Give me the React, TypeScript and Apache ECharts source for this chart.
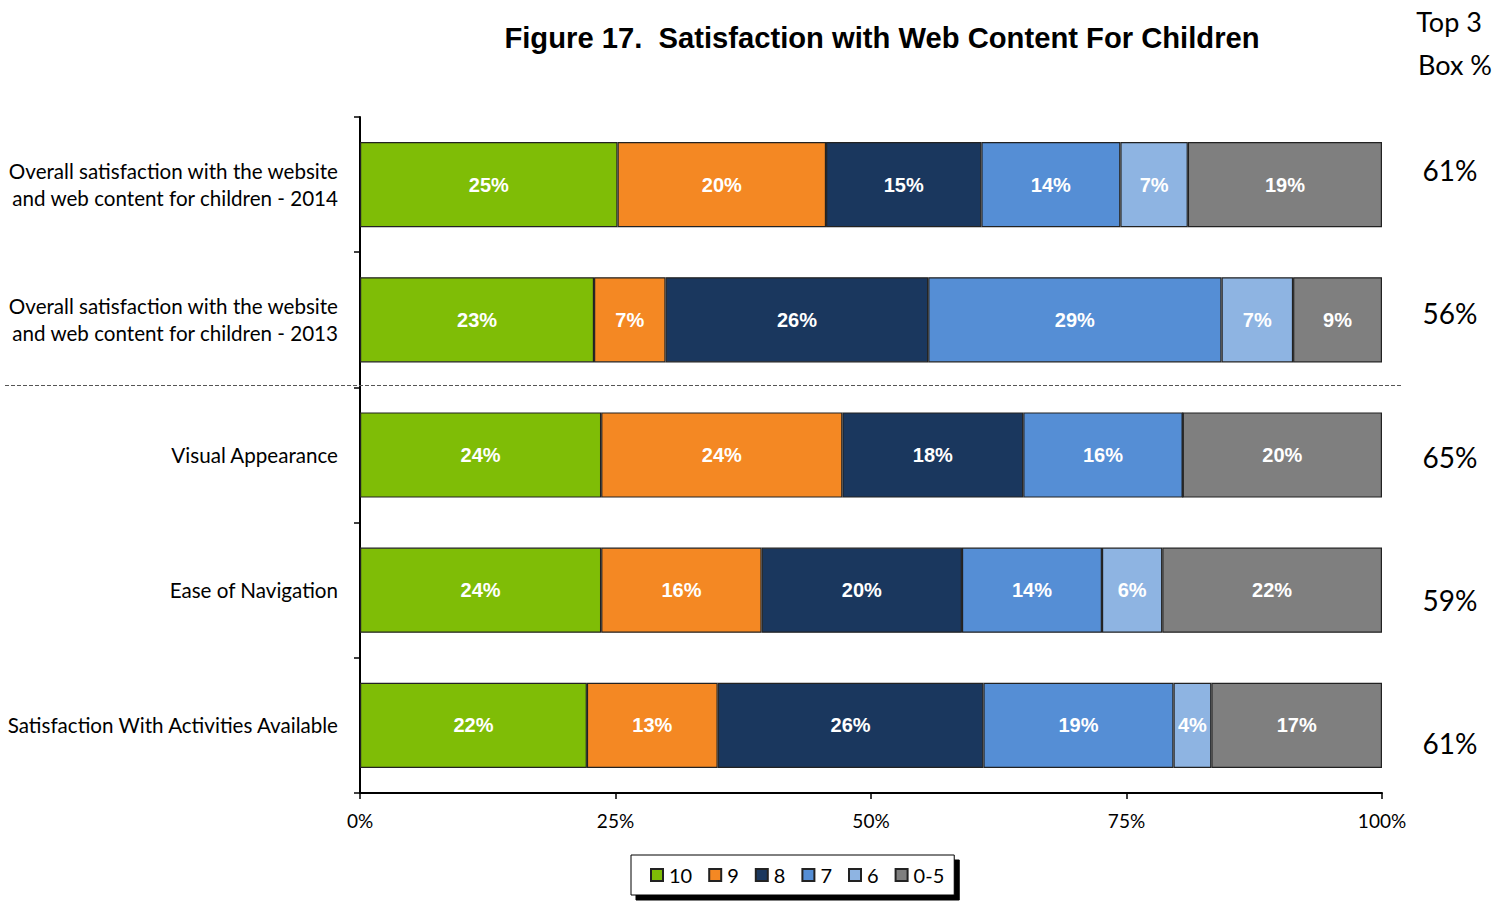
import React, { useEffect, useRef } from "react";
import * as echarts from "echarts";

const categories = [
  "Overall satisfaction with the website\nand web content for children - 2014",
  "Overall satisfaction with the website\nand web content for children - 2013",
  "Visual Appearance",
  "Ease of Navigation",
  "Satisfaction With Activities Available",
];

const seriesNames = ["10", "9", "8", "7", "6", "0-5"];

const s10 = [25.2, 22.9, 23.6, 23.6, 22.2];
const s9 = [20.4, 7.0, 23.6, 15.7, 12.8];
const s8 = [15.2, 25.7, 17.7, 19.6, 26.0];
const s7 = [13.6, 28.7, 15.6, 13.7, 18.6];
const s6 = [6.6, 7.0, 0, 5.9, 3.7];
const s05 = [19.0, 8.7, 19.5, 21.5, 16.7];

const top3 = ["61%", "56%", "65%", "59%", "61%"];

const xTicks = [0, 25, 50, 75, 100];

const colors = ["#7FBD06", "#F48823", "#1A375E", "#558ED5", "#8EB4E2", "#7F7F7F"];

const CAL = "Lato, 'Open Sans', sans-serif";
const ARIAL = "'Liberation Sans', Arial, sans-serif";

export default function App() {
  const ref = useRef<HTMLDivElement>(null);
  useEffect(() => {
    if (!ref.current) return;
    const chart = echarts.init(ref.current, undefined, { renderer: "svg" });
    const values = [s10, s9, s8, s7, s6, s05];
    const series: any[] = values.map((vals, i) => ({
      name: seriesNames[i],
      type: "bar",
      stack: "total",
      xAxisIndex: 0,
      yAxisIndex: 0,
      barWidth: "63%",
      data: vals,
      itemStyle: { color: colors[i], borderColor: "#222", borderWidth: 1.2 },
      label: {
        show: true,
        position: "inside",
        color: "#fff",
        fontFamily: ARIAL,
        fontWeight: "bold",
        fontSize: 20,
        formatter: (p: any) => (p.value > 0 ? Math.round(p.value) + "%" : ""),
      },
    }));
    chart.setOption({
      animation: false,
      title: {
        text: "Figure 17.  Satisfaction with Web Content For Children",
        left: 877,
        top: 18,
        textAlign: "center",
        textStyle: { fontFamily: ARIAL, fontWeight: "bold", fontSize: 29.2, color: "#000" },
      },
      legend: {
        data: seriesNames,
        left: 631,
        top: 855,
        padding: [10, 10, 10, 19],
        itemWidth: 12,
        itemHeight: 12,
        itemGap: 16,
        icon: "rect",
        backgroundColor: "#fff",
        borderColor: "#000",
        borderWidth: 1,
        shadowColor: "#000",
        shadowOffsetX: 5,
        shadowOffsetY: 5,
        shadowBlur: 0,
        textStyle: { fontFamily: CAL, fontSize: 20, color: "#000", padding: [0, 0, 0, 1] },
      },
      grid: [
        { left: 360, right: 125, top: 117, bottom: 112 },
        { left: 1450, width: 10, top: 98, bottom: 90 },
      ],
      xAxis: [
        {
          type: "value",
          gridIndex: 0,
          min: xTicks[0],
          max: xTicks[xTicks.length - 1],
          interval: 25,
          axisLine: { show: true, lineStyle: { color: "#000", width: 2 } },
          axisTick: { show: true, length: 6, lineStyle: { color: "#000", width: 1.5 } },
          splitLine: { show: false },
          axisLabel: {
            formatter: "{value}%",
            fontFamily: CAL,
            fontSize: 19,
            color: "#000",
            margin: 18,
          },
        },
        { type: "value", gridIndex: 1, show: false },
      ],
      yAxis: [
        {
          type: "category",
          gridIndex: 0,
          data: categories,
          inverse: true,
          axisLine: { show: true, lineStyle: { color: "#000", width: 2 } },
          axisTick: { show: true, length: 6, lineStyle: { color: "#000", width: 1.5 } },
          axisLabel: {
            fontFamily: CAL,
            fontSize: 20.6,
            color: "#000",
            margin: 22,
            lineHeight: 27,
            align: "right",
          },
        },
        {
          type: "category",
          gridIndex: 1,
          data: top3,
          inverse: true,
          position: "left",
          axisLine: { show: false },
          axisTick: { show: false },
          axisLabel: {
            fontFamily: CAL,
            fontSize: 28,
            color: "#000",
            margin: 0,
            align: "center",
          },
        },
      ],
      series,
      graphic: [
        {
          type: "line",
          shape: { x1: 5, y1: 385.5, x2: 1403, y2: 385.5 },
          style: { stroke: "#555", lineWidth: 1, lineDash: [4, 2] },
          z: 100,
        },
        {
          type: "text",
          x: 1449,
          y: 21,
          style: {
            text: "Top 3",
            font: `27px ${CAL}`,
            fill: "#000",
            align: "center",
            verticalAlign: "middle",
          },
        },
        {
          type: "text",
          x: 1455,
          y: 64,
          style: {
            text: "Box %",
            font: `27px ${CAL}`,
            fill: "#000",
            align: "center",
            verticalAlign: "middle",
          },
        },
      ],
    });
    return () => chart.dispose();
  }, []);
  return (
    <div
      ref={ref}
      style={{ position: "fixed", left: 0, top: 0, width: 1507, height: 905, background: "#fff" }}
    />
  );
}
